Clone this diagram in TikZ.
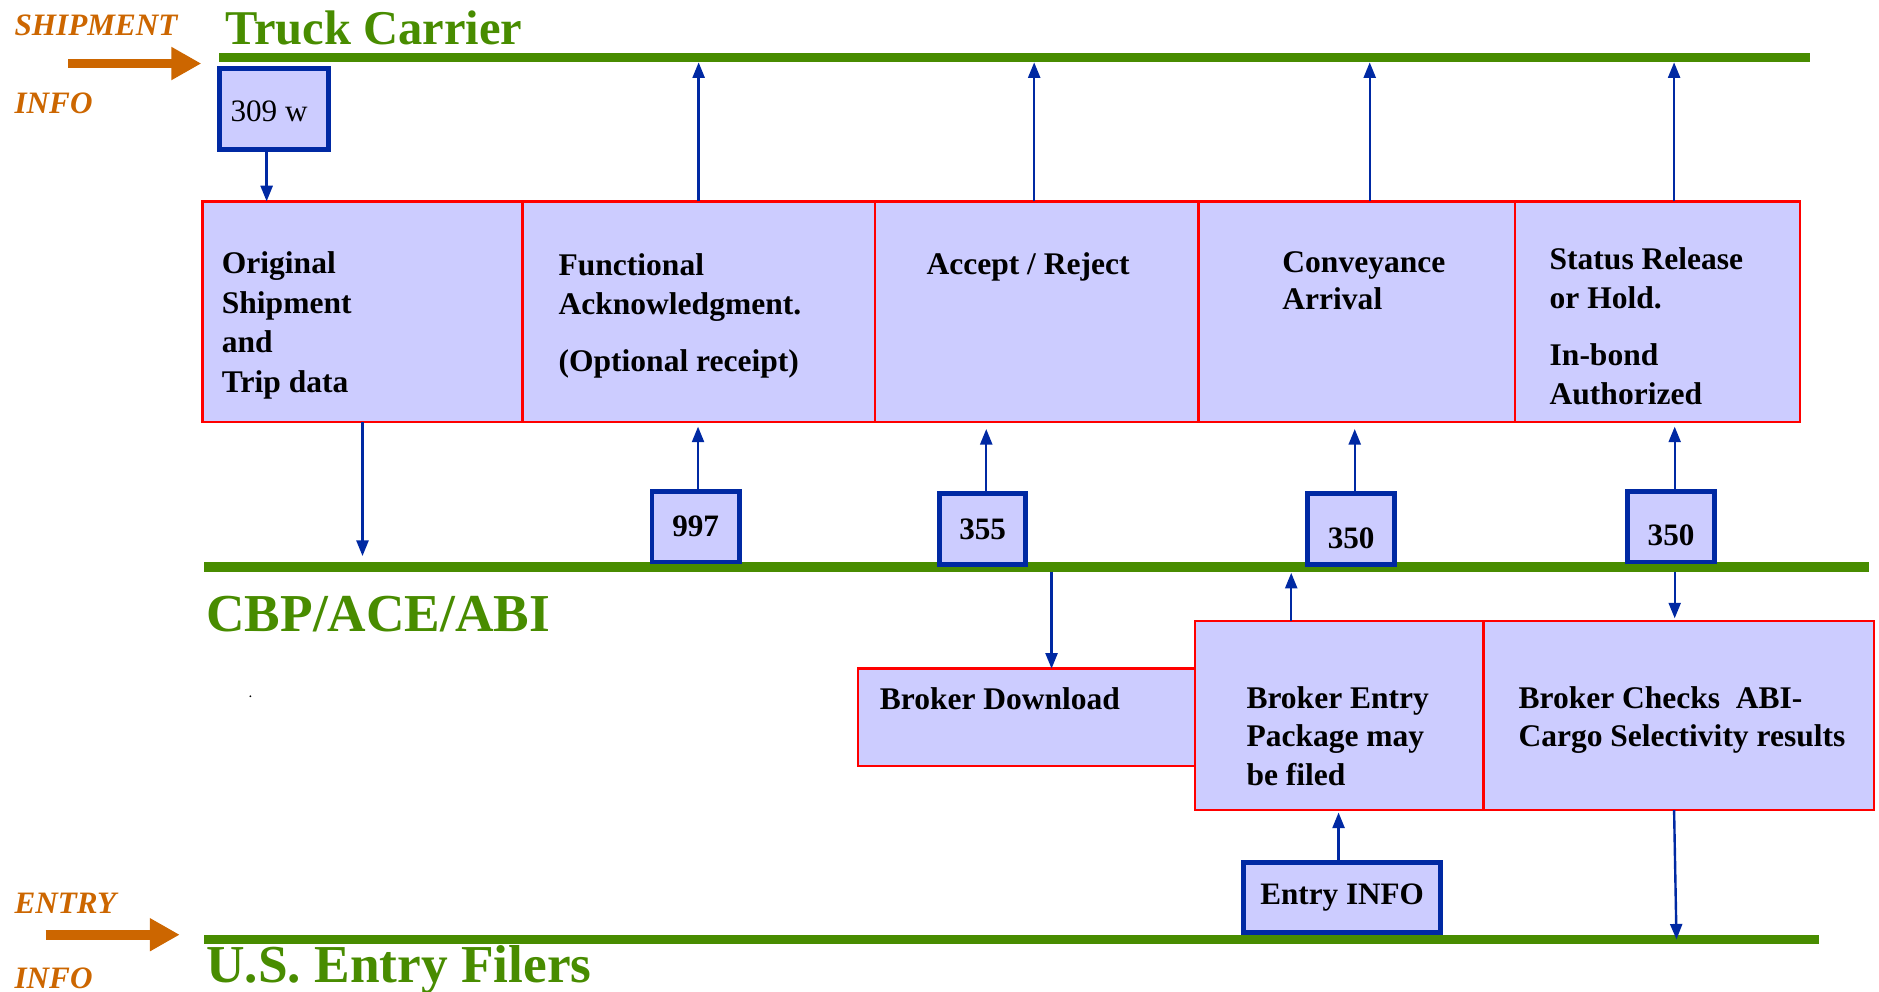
\documentclass[tikz,border=0pt]{standalone}
\usepackage{fontspec}
\setmainfont{Liberation Serif}
\usetikzlibrary{arrows.meta,calc}
\definecolor{lgreen}{RGB}{72,140,0}
\definecolor{lorange}{RGB}{204,102,0}
\definecolor{lfill}{RGB}{204,204,255}
\definecolor{lred}{RGB}{255,0,0}
\definecolor{lblue}{RGB}{0,41,163}
\newcommand\lnstrut{\rule{0pt}{20.8pt}}
\begin{document}
\begin{tikzpicture}[x=1pt,y=-1pt,
  cell/.style={draw=lred, fill=lfill, line width=2pt, inner sep=0, outer sep=0, anchor=north west},
  codebox/.style={draw=lblue, fill=lfill, line width=4pt, inner sep=0, outer sep=0, anchor=north west, font=\fontsize{26}{32}\selectfont\bfseries},
  lane/.style={fill=lgreen, inner sep=0, outer sep=0, minimum height=8pt, anchor=west},
  celltxt/.style={anchor=north west, inner sep=0, align=left, font=\fontsize{26}{32.5}\selectfont\bfseries},
  flow/.style={draw=lblue, line width=2pt, -{Triangle[length=13pt,width=10pt]}},
  info/.style={draw=lorange, line width=8pt, -{Triangle[length=25pt,width=26pt]}},
  side/.style={anchor=base west, inner sep=0, text=lorange, font=\fontsize{26}{30}\selectfont\bfseries\itshape},
  title/.style={anchor=base west, inner sep=0, text=lgreen, font=\fontsize{44}{48}\selectfont\bfseries},
]
\useasboundingbox (0,0) rectangle (1568,827.8);

% lanes
\node[lane, minimum width=1327pt] (topline) at (183,48) {};
\node[lane, minimum width=1390pt] (midline) at (170,473) {};
\node[lane, minimum width=1348pt] (botline) at (170,784) {};

% titles and side labels
\node[side] (ship) at (12,30) {SHIPMENT};
\node[side] (info1) at (12,95) {INFO};
\node[side] (entry) at (12,762) {ENTRY};
\node[side] (info2) at (12,825) {INFO};
\node[title, font=\fontsize{40.5}{44}\selectfont\bfseries] (truck) at (188,37) {Truck Carrier};
\node[title, font=\fontsize{44.5}{48}\selectfont\bfseries] (cbp) at (172,527) {CBP/ACE/ABI};
\node[title, font=\fontsize{44.5}{48}\selectfont\bfseries] (us) at (172,820) {U.S. Entry Filers};

% orange arrows
\coordinate (s1a) at (57,53);
\coordinate (s1b) at (168,53);
\coordinate (s2a) at (38,780);
\coordinate (s2b) at (150,780);
\draw[info] (s1a) -- (s1b);
\draw[info] (s2a) -- (s2b);

% upper row cells
\node[cell, minimum width=267pt, minimum height=184pt] (c1) at (169,168) {};
\node[cell, minimum width=294pt, minimum height=184pt] (c2) at (436,168) {};
\node[cell, minimum width=270pt, minimum height=184pt] (c3) at (730,168) {};
\node[cell, minimum width=264pt, minimum height=184pt] (c4) at (1000,168) {};
\node[cell, minimum width=238pt, minimum height=184pt] (c5) at (1264,168) {};

\node[celltxt, font=\fontsize{26.3}{33}\selectfont\bfseries] (t1) at (185,207.2) {\lnstrut Original\\Shipment\\and\\Trip data};
\node[celltxt, font=\fontsize{26.3}{32}\selectfont\bfseries] (t2) at (466,209.2) {\lnstrut Functional\\Acknowledgment.\\[16pt](Optional receipt)};
\node[celltxt, font=\fontsize{26.3}{32}\selectfont\bfseries] (t3) at (773,208.2) {\lnstrut Accept / Reject};
\node[celltxt, font=\fontsize{26.3}{31}\selectfont\bfseries] (t4) at (1070,206.2) {\lnstrut Conveyance\\Arrival};
\node[celltxt, font=\fontsize{26.3}{32}\selectfont\bfseries] (t5) at (1293,204.2) {\lnstrut Status Release\\or Hold.\\[16pt]In-bond\\Authorized};

% lower row cells
\node[cell, minimum width=281pt, minimum height=81pt] (bd) at (716,558) {};
\node[cell, minimum width=241pt, minimum height=158pt] (be) at (997,518) {};
\node[cell, minimum width=326pt, minimum height=158pt] (bc) at (1238,518) {};

\node[celltxt, font=\fontsize{26.3}{32}\selectfont\bfseries] (tbd) at (734,571.2) {\lnstrut Broker Download};
\node[celltxt, font=\fontsize{26.3}{32}\selectfont\bfseries] (tbe) at (1040,570.2) {\lnstrut Broker Entry\\Package may\\be filed};
\node[celltxt, font=\fontsize{26.3}{32}\selectfont\bfseries] (tbc) at (1267,570.2) {\lnstrut Broker Checks~ ABI-\\Cargo Selectivity results};

% code boxes
\node[codebox, minimum width=91pt, minimum height=68pt, font=\fontsize{26}{32}\selectfont] (b309) at (183,57) {\kern-8pt\raisebox{-2pt}[17pt][0pt]{309 w}};
\node[codebox, minimum width=73pt, minimum height=59pt] (b997) at (544,410) {997};
\node[codebox, minimum width=72pt, minimum height=59pt] (b355) at (784,412) {355};
\node[codebox, minimum width=73pt, minimum height=59pt] (b350a) at (1091,412) {\raisebox{-7pt}[17.6pt][0pt]{350}};
\node[codebox, minimum width=73pt, minimum height=59pt] (b350b) at (1358,410) {\raisebox{-7pt}[17.6pt][0pt]{350}};
\node[codebox, minimum width=164pt, minimum height=58pt] (ei) at (1038,720) {Entry INFO};

% connectors
\draw[flow] ([xshift=-6pt]b309.south) -- ([xshift=-6pt]b309.south |- c1.north);
\draw[flow] (c2.north) -- (c2.north |- topline.south);
\draw[flow] ([xshift=-2pt]c3.north) -- ([xshift=-2pt]c3.north |- topline.south);
\draw[flow] ([xshift=11pt]c4.north) -- ([xshift=11pt]c4.north |- topline.south);
\draw[flow] ([xshift=14pt]c5.north) -- ([xshift=14pt]c5.north |- topline.south);
\draw[flow, shorten >=5pt] (c1.south) -- (c1.south |- midline.north);
\draw[flow, shorten >=4pt] ([xshift=2pt]b997.north) -- ([xshift=2pt]b997.north |- c2.south);
\draw[flow, shorten >=6pt] ([xshift=3pt]b355.north) -- ([xshift=3pt]b355.north |- c3.south);
\draw[flow, shorten >=6pt] ([xshift=3pt]b350a.north) -- ([xshift=3pt]b350a.north |- c4.south);
\draw[flow, shorten >=4pt] ([xshift=3pt]b350b.north) -- ([xshift=3pt]b350b.north |- c5.south);
\coordinate (bdin) at ([xshift=21pt]bd.north);
\draw[flow] (bdin |- midline.south) -- (bdin);
\coordinate (beout) at ([xshift=-40pt]be.north);
\draw[flow, shorten >=1pt] (beout) -- (beout |- midline.south);
\draw[flow, shorten >=2pt] ([xshift=3pt]b350b.south |- midline.south) -- ([xshift=3pt]b350b.south |- bc.north);
\draw[flow, shorten >=2pt] ([xshift=-3pt]ei.north) -- ([xshift=-3pt]ei.north |- be.south);
\coordinate (bcend) at ([xshift=-2pt]bc.south |- botline.center);
\draw[flow] ([xshift=-4pt]bc.south) -- (bcend);

\fill (209,581) circle (0.8pt);
\end{tikzpicture}
\end{document}
